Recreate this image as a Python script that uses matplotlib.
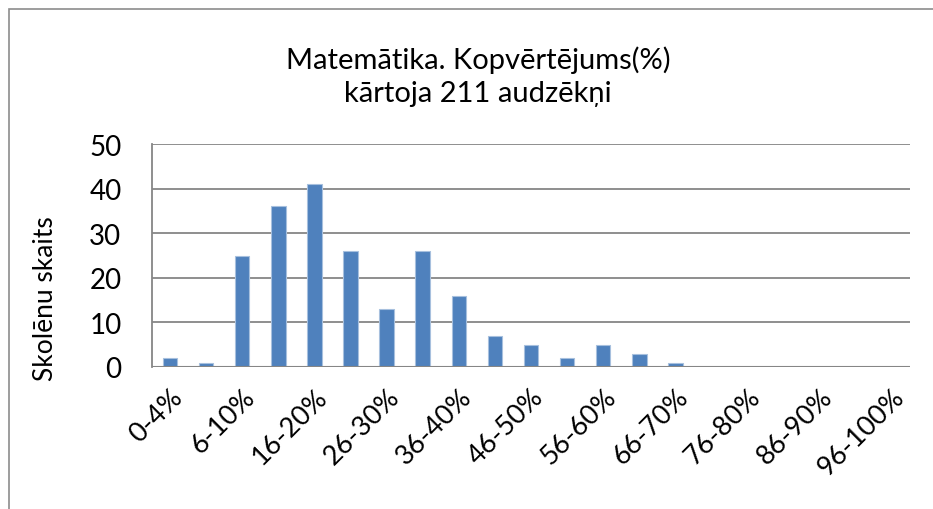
import matplotlib
matplotlib.use("Agg")
import matplotlib.pyplot as plt
from matplotlib.patches import Rectangle

# Data
categories = [
    "0-4%", "5%", "6-10%", "11-15%", "16-20%", "21-25%", "26-30%",
    "31-35%", "36-40%", "41-45%", "46-50%", "51-55%", "56-60%",
    "61-65%", "66-70%", "71-75%", "76-80%", "81-85%", "86-90%",
    "91-95%", "96-100%",
]
students = [2, 1, 25, 36, 41, 26, 13, 26, 16, 7, 5, 2, 5, 3, 1, 0, 0, 0, 0, 0, 0]
y_ticks = [0, 10, 20, 30, 40, 50]

title = "Matemātika. Kopvērtējums(%)\nkārtoja 211 audzēkņi"
y_label = "Skolēnu skaits"

plt.rcParams["font.family"] = ["Lato", "DejaVu Sans"]

W, H = 933, 510
fig = plt.figure(figsize=(W / 100, H / 100), dpi=100)

# outer chart frame (cropped on right and bottom)
fig.add_artist(Rectangle((9 / W, -0.05), 1.1, 1 - 10 / H + 0.05,
                         transform=fig.transFigure, fill=False,
                         edgecolor="#8c8c8c", linewidth=1.2))

ax = fig.add_axes([152 / W, 1 - 368 / H, (910 - 152) / W, (368 - 145) / H])

x = list(range(len(categories)))
ax.bar(x, students, width=0.4, color="#4F81BD", edgecolor="#A7C0DE",
       linewidth=0.8, zorder=3)

ax.set_xlim(-0.5, len(categories) - 0.5)
ax.set_ylim(0, 50)
ax.set_yticks(y_ticks)
ax.yaxis.grid(True, color="#868686", linewidth=1.3, zorder=0)
ax.set_axisbelow(True)

for s in ["top", "right", "bottom"]:
    ax.spines[s].set_visible(False)
ax.spines["left"].set_color("#868686")
ax.spines["left"].set_linewidth(1.3)
ax.axhline(0, color="#868686", linewidth=1.5, zorder=4)

ax.set_xticks(x[::2])
ax.set_xticklabels(categories[::2], rotation=45, ha="right",
                   rotation_mode="anchor", fontsize=19.5)
ax.tick_params(axis="x", length=0, pad=12)
ax.tick_params(axis="y", length=0, pad=22, labelsize=20)

fig.text(46 / W, 1 - 299 / H, y_label, rotation=90, ha="center",
         va="center", fontsize=19)
fig.text(478 / W, 1 - 77 / H, title, ha="center", va="center",
         fontsize=21, linespacing=1.35)

fig.savefig("out.png", dpi=100)
